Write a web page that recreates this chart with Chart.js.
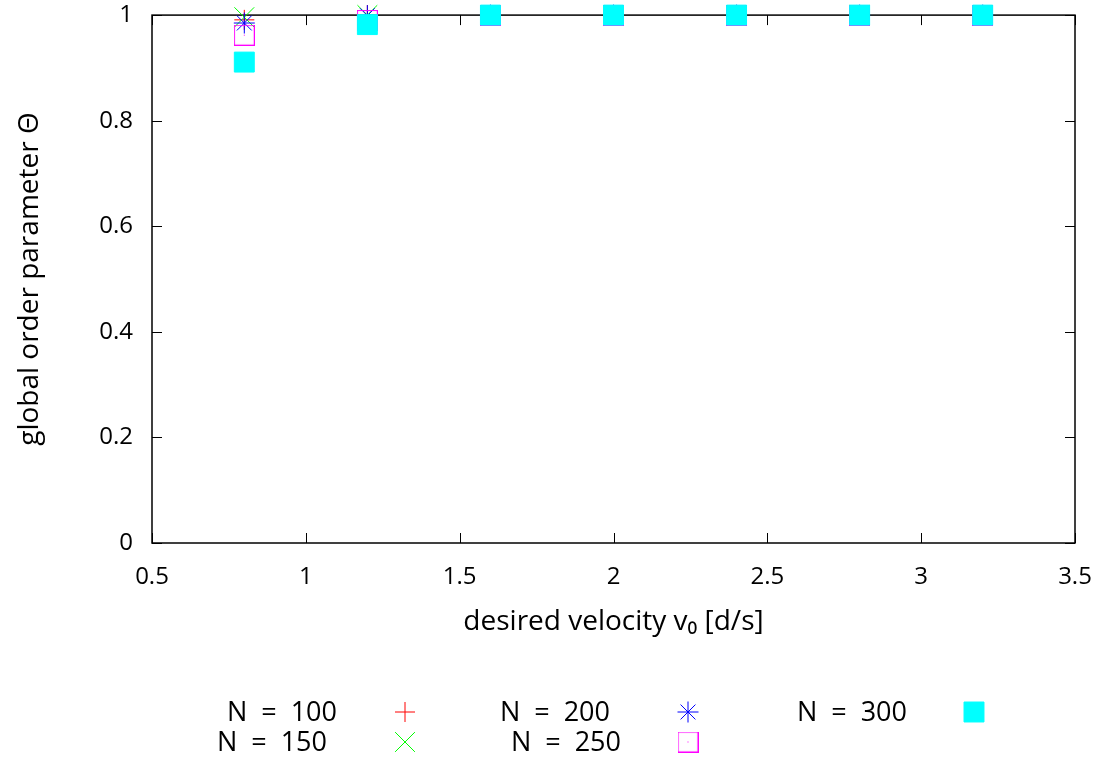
<!DOCTYPE html>
<html>
<head>
<meta charset="utf-8">
<script src="https://cdn.jsdelivr.net/npm/chart.js@4.4.1/dist/chart.umd.min.js"></script>
<style>
body { margin: 0; background: #fff; }
canvas { display: block; }
</style>
</head>
<body>
<canvas id="myChart" width="1105" height="760"></canvas>
<script>
// desired velocity v0 values on the x axis
var velocities = [0.8, 1.2, 1.6, 2.0, 2.4, 2.8, 3.2];
// global order parameter for each swarm size
var n100 = [0.991, 1.0, 1.0, 1.0, 1.0, 1.0, 1.0];
var n150 = [0.996, 1.0, 1.0, 1.0, 1.0, 1.0, 1.0];
var n200 = [0.985, 0.999, 1.0, 1.0, 1.0, 1.0, 1.0];
var n250 = [0.962, 0.99, 1.0, 1.0, 1.0, 1.0, 1.0];
var n300 = [0.911, 0.982, 1.0, 1.0, 1.0, 1.0, 1.0];
var seriesLabels = ['N = 100', 'N = 150', 'N = 200', 'N = 250', 'N = 300'];
var xTicks = [0.5, 1, 1.5, 2, 2.5, 3, 3.5];
var yTicks = [0, 0.2, 0.4, 0.6, 0.8, 1];

var FONT = '"Open Sans", sans-serif';

// open square with a dot in the middle (gnuplot point type 4)
var openSquare = document.createElement('canvas');
openSquare.width = 21;
openSquare.height = 21;
(function() {
    var c = openSquare.getContext('2d');
    c.strokeStyle = '#ff00ff';
    c.fillStyle = '#ff00ff';
    c.lineWidth = 1.2;
    c.strokeRect(0.5, 0.5, 20, 20);
    c.fillRect(10, 10, 1, 1);
})();

let toPoints = (arr) => velocities.map((v, i) => ({ x: v, y: arr[i] }));

var datasets = [
    { label: seriesLabels[0], data: toPoints(n100), pointStyle: 'cross', pointRadius: 10, borderColor: '#ff0000', backgroundColor: '#ff0000' },
    { label: seriesLabels[1], data: toPoints(n150), pointStyle: 'crossRot', pointRadius: 14, borderColor: '#00ff00', backgroundColor: '#00ff00' },
    { label: seriesLabels[2], data: toPoints(n200), pointStyle: 'star', pointRadius: 10.5, borderColor: '#0000ff', backgroundColor: '#0000ff' },
    { label: seriesLabels[3], data: toPoints(n250), pointStyle: openSquare, pointRadius: 10, borderColor: '#ff00ff', backgroundColor: '#ff00ff' },
    { label: seriesLabels[4], data: toPoints(n300), pointStyle: 'rect', pointRadius: 14.1, borderColor: '#00ffff', backgroundColor: '#00ffff' }
];
// later series are drawn on top, like gnuplot does
datasets.forEach((d, i) => { d.borderWidth = 1; d.clip = false; d.showLine = false; d.order = datasets.length - 1 - i; });

// box round the plot, ticks pointing inwards on all four sides
var framePlugin = {
    id: 'frame',
    beforeDatasetsDraw(chart) {
        var a = chart.chartArea, c = chart.ctx, xs = chart.scales.x, ys = chart.scales.y;
        c.save();
        c.strokeStyle = '#000';
        c.lineWidth = 1;
        c.beginPath();
        xTicks.forEach(v => {
            var px = Math.round(xs.getPixelForValue(v)) + 0.5;
            c.moveTo(px, a.bottom); c.lineTo(px, a.bottom - 10);
            c.moveTo(px, a.top); c.lineTo(px, a.top + 10);
        });
        yTicks.forEach(v => {
            var py = Math.round(ys.getPixelForValue(v)) + 0.5;
            c.moveTo(a.left, py); c.lineTo(a.left + 10, py);
            c.moveTo(a.right, py); c.lineTo(a.right - 10, py);
        });
        c.stroke();
        c.lineWidth = 1.5;
        c.strokeRect(a.left, a.top, a.right - a.left, a.bottom - a.top);
        c.restore();
    }
};

// gnuplot style key: text first, symbol after, filled column by column
var keyPlugin = {
    id: 'key',
    afterDraw(chart) {
        var c = chart.ctx;
        var textRight = [337, 327, 610, 621, 907];
        var symbolX = [405, 688, 974];
        var rowY = [712, 742];
        c.save();
        c.font = '27px ' + FONT;
        c.wordSpacing = '7px';
        c.textAlign = 'right';
        c.textBaseline = 'middle';
        chart.data.datasets.forEach((d, i) => {
            var col = Math.floor(i / 2), row = i % 2;
            c.fillStyle = '#000';
            c.fillText(d.label, textRight[i], rowY[row] + 1);
            c.strokeStyle = d.borderColor;
            c.fillStyle = d.backgroundColor;
            c.lineWidth = d.borderWidth;
            Chart.helpers.drawPoint(c, { pointStyle: d.pointStyle, radius: d.pointRadius, rotation: 0, borderWidth: d.borderWidth }, symbolX[col], rowY[row]);
        });
        c.restore();
    }
};

var ctx = document.getElementById('myChart').getContext('2d');
var myChart = new Chart(ctx, {
    type: 'scatter',
    data: { datasets: datasets },
    options: {
        responsive: false,
        animation: false,
        events: [],
        layout: { padding: { left: 0, top: 13, right: 30, bottom: 121 } },
        plugins: { legend: { display: false }, tooltip: { enabled: false } },
        scales: {
            x: {
                type: 'linear',
                min: 0.5,
                max: 3.5,
                afterBuildTicks: s => { s.ticks = xTicks.map(v => ({ value: v })); },
                afterFit: s => { s.height = 96; s.paddingLeft = 0; s.paddingRight = 0; },
                grid: { display: false, drawTicks: false },
                border: { display: false },
                ticks: { color: '#000', padding: 20, maxRotation: 0, font: { family: FONT, size: 24 }, callback: v => String(v) },
                title: { display: true, text: 'desired velocity v\u2080 [d/s]', color: '#000', padding: { top: 0, bottom: 0 }, font: { family: FONT, size: 28 } }
            },
            y: {
                type: 'linear',
                min: 0,
                max: 1,
                afterBuildTicks: s => { s.ticks = yTicks.map(v => ({ value: v })); },
                afterFit: s => { s.width = 152; s.paddingTop = 0; s.paddingBottom = 0; },
                grid: { display: false, drawTicks: false },
                border: { display: false },
                ticks: { color: '#000', padding: 19, font: { family: FONT, size: 24 }, callback: v => String(v) },
                title: { display: true, text: 'global order parameter \u0398', color: '#000', padding: { top: 13, bottom: 0 }, font: { family: FONT, size: 28 } }
            }
        }
    },
    plugins: [framePlugin, keyPlugin]
});
</script>
</body>
</html>
